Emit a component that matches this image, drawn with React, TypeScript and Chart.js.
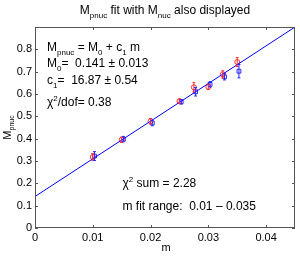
import React, { useEffect, useRef } from 'react';
import { Chart, registerables } from 'chart.js';

Chart.register(...registerables);

// ---- data ----
const mPnuc = [0.01, 0.015, 0.02, 0.025, 0.0275, 0.03, 0.0325, 0.035];
const pnuc = [0.318, 0.395, 0.478, 0.568, 0.63, 0.632, 0.688, 0.743];
const pnucErr = [0.015, 0.012, 0.012, 0.01, 0.021, 0.012, 0.016, 0.02];

const mNuc = [0.0103, 0.0153, 0.0203, 0.0253, 0.0278, 0.0303, 0.0328, 0.0353];
const nuc = [0.322, 0.398, 0.47, 0.565, 0.61, 0.643, 0.677, 0.702];
const nucErr = [0.02, 0.012, 0.012, 0.01, 0.019, 0.012, 0.014, 0.03];

const fitM = [0, 0.045];
const fitY = [0.141, 0.8999];

const xTickValues = [0, 0.01, 0.02, 0.03, 0.04];
const xTickLabels = ['0', '0.01', '0.02', '0.03', '0.04'];
const yTickValues = [0, 0.1, 0.2, 0.3, 0.4, 0.5, 0.6, 0.7, 0.8];
const yTickLabels = ['0', '0.1', '0.2', '0.3', '0.4', '0.5', '0.6', '0.7', '0.8'];

const FONT = '"Liberation Sans", Arial, Helvetica, sans-serif';
const RED = 'rgb(255,50,50)';
const BLUE = 'rgb(40,40,255)';
const AXIS = '#555';

type Part = { t: string; sub?: boolean; sup?: boolean };

function drawRich(
  ctx: CanvasRenderingContext2D,
  parts: Part[],
  x: number,
  y: number,
  size: number,
  align: 'left' | 'center' = 'left'
) {
  const small = Math.round(size * 0.68);
  ctx.textAlign = 'left';
  ctx.textBaseline = 'alphabetic';
  const widths = parts.map((p) => {
    ctx.font = `${p.sub || p.sup ? small : size}px ${FONT}`;
    return ctx.measureText(p.t).width;
  });
  const total = widths.reduce((a, b) => a + b, 0);
  let cx = align === 'center' ? x - total / 2 : x;
  parts.forEach((p, i) => {
    ctx.font = `${p.sub || p.sup ? small : size}px ${FONT}`;
    const dy = p.sub ? size * 0.36 : p.sup ? -size * 0.42 : 0;
    ctx.fillText(p.t, cx, y + dy);
    cx += widths[i];
  });
}

const decorPlugin = {
  id: 'decor',
  beforeDatasetsDraw(chart: any) {
    const { ctx, chartArea } = chart;
    const { left, right, top, bottom } = chartArea;
    const xs = chart.scales.x;
    const ys = chart.scales.y;
    ctx.save();
    ctx.strokeStyle = AXIS;
    ctx.lineWidth = 1;
    ctx.beginPath();
    const tl = 3;
    xTickValues.forEach((v) => {
      const px = Math.round(xs.getPixelForValue(v)) + 0.5;
      ctx.moveTo(px, bottom);
      ctx.lineTo(px, bottom - tl);
      ctx.moveTo(px, top);
      ctx.lineTo(px, top + tl);
    });
    yTickValues.forEach((v) => {
      const py = Math.round(ys.getPixelForValue(v)) + 0.5;
      ctx.moveTo(left, py);
      ctx.lineTo(left + tl, py);
      ctx.moveTo(right, py);
      ctx.lineTo(right - tl, py);
    });
    ctx.stroke();
    ctx.restore();
  },
  afterDatasetsDraw(chart: any) {
    const { ctx, chartArea } = chart;
    const { left, right, top, bottom } = chartArea;
    const xs = chart.scales.x;
    const ys = chart.scales.y;

    // error bars
    const drawErr = (mx: number[], vals: number[], errs: number[], color: string) => {
      ctx.save();
      ctx.strokeStyle = color;
      ctx.lineWidth = 1;
      ctx.beginPath();
      mx.forEach((m, i) => {
        const px = xs.getPixelForValue(m);
        const y1 = ys.getPixelForValue(vals[i] - errs[i]);
        const y2 = ys.getPixelForValue(vals[i] + errs[i]);
        ctx.moveTo(px, y1);
        ctx.lineTo(px, y2);
        ctx.moveTo(px - 1.5, y1);
        ctx.lineTo(px + 1.5, y1);
        ctx.moveTo(px - 1.5, y2);
        ctx.lineTo(px + 1.5, y2);
      });
      ctx.stroke();
      ctx.restore();
    };
    drawErr(mPnuc, pnuc, pnucErr, RED);
    drawErr(mNuc, nuc, nucErr, BLUE);

    // box
    ctx.save();
    ctx.strokeStyle = AXIS;
    ctx.lineWidth = 1;
    ctx.strokeRect(left + 0.5, top + 0.5, right - left - 1, bottom - top - 1);
    ctx.restore();

    // texts
    ctx.save();
    ctx.fillStyle = '#000';
    const cxMid = (left + right) / 2;
    drawRich(
      ctx,
      [{ t: 'M' }, { t: 'pnuc', sub: true }, { t: ' fit with M' }, { t: 'nuc', sub: true }, { t: ' also displayed' }],
      cxMid,
      13.5,
      12,
      'center'
    );
    const ax = 47;
    drawRich(ctx, [{ t: 'M' }, { t: 'pnuc', sub: true }, { t: ' = M' }, { t: '0', sub: true }, { t: ' + c' }, { t: '1', sub: true }, { t: ' m' }], ax, 50.5, 12);
    drawRich(ctx, [{ t: 'M' }, { t: '0', sub: true }, { t: '=  0.141 ± 0.013' }], ax, 67, 12);
    drawRich(ctx, [{ t: 'c' }, { t: '1', sub: true }, { t: '=  16.87 ± 0.54' }], ax, 83.5, 12);
    drawRich(ctx, [{ t: 'χ' }, { t: '2', sup: true }, { t: '/dof= 0.38' }], ax, 106, 12);

    drawRich(ctx, [{ t: 'χ' }, { t: '2', sup: true }, { t: ' sum = 2.28' }], 122.5, 187, 12);
    drawRich(ctx, [{ t: 'm fit range:  0.01 – 0.035' }], 122.5, 210, 12);

    // axis labels
    drawRich(ctx, [{ t: 'm' }], cxMid + 1, 251, 11, 'center');
    ctx.translate(10.5, (top + bottom) / 2);
    ctx.rotate(-Math.PI / 2);
    drawRich(ctx, [{ t: 'M' }, { t: 'pnuc', sub: true }], 0, 0, 11, 'center');
    ctx.restore();
  },
};

export default function App() {
  const ref = useRef<HTMLCanvasElement | null>(null);

  useEffect(() => {
    if (!ref.current) return;
    const chart = new Chart(ref.current, {
      type: 'scatter',
      data: {
        datasets: [
          {
            type: 'line',
            data: fitM.map((m, i) => ({ x: m, y: fitY[i] })),
            borderColor: 'rgb(0,0,255)',
            borderWidth: 1,
            pointRadius: 0,
            showLine: true,
            fill: false,
          } as any,
          {
            data: mPnuc.map((m, i) => ({ x: m, y: pnuc[i] })),
            pointStyle: 'circle',
            pointRadius: 2.5,
            borderColor: RED,
            backgroundColor: 'rgba(0,0,0,0)',
            borderWidth: 1,
          },
          {
            data: mNuc.map((m, i) => ({ x: m, y: nuc[i] })),
            pointStyle: 'rect',
            pointRadius: 2.7,
            borderColor: BLUE,
            backgroundColor: 'rgba(0,0,0,0)',
            borderWidth: 1,
          },
        ],
      },
      options: {
        animation: false,
        responsive: false,
        maintainAspectRatio: false,
        layout: { padding: { left: 0, top: 27, right: 3, bottom: 0 } },
        plugins: {
          legend: { display: false },
          tooltip: { enabled: false },
          title: { display: false },
        },
        scales: {
          x: {
            type: 'linear',
            min: 0,
            max: 0.045,
            grid: { display: false, drawTicks: false },
            border: { display: false },
            afterBuildTicks: (s: any) => {
              s.ticks = xTickValues.map((v) => ({ value: v }));
            },
            afterFit: (s: any) => {
              s.height = 28;
            },
            ticks: {
              autoSkip: false,
              maxRotation: 0,
              padding: 3,
              color: '#000',
              font: { family: FONT, size: 11 },
              callback: (v: any) => {
                const i = xTickValues.findIndex((t) => Math.abs(t - v) < 1e-9);
                return i >= 0 ? xTickLabels[i] : '';
              },
            },
          },
          y: {
            type: 'linear',
            min: 0,
            max: 0.9,
            grid: { display: false, drawTicks: false },
            border: { display: false },
            afterBuildTicks: (s: any) => {
              s.ticks = yTickValues.map((v) => ({ value: v }));
            },
            afterFit: (s: any) => {
              s.width = 35;
            },
            ticks: {
              autoSkip: false,
              padding: 3,
              color: '#000',
              font: { family: FONT, size: 11 },
              callback: (v: any) => {
                const i = yTickValues.findIndex((t) => Math.abs(t - v) < 1e-9);
                return i >= 0 ? yTickLabels[i] : '';
              },
            },
          },
        },
      },
      plugins: [decorPlugin],
    });
    return () => chart.destroy();
  }, []);

  return (
    <div style={{ position: 'fixed', left: 0, top: 0, width: 300, height: 256, background: '#fff' }}>
      <canvas ref={ref} width={300} height={256} style={{ width: 300, height: 256, display: 'block' }} />
    </div>
  );
}
